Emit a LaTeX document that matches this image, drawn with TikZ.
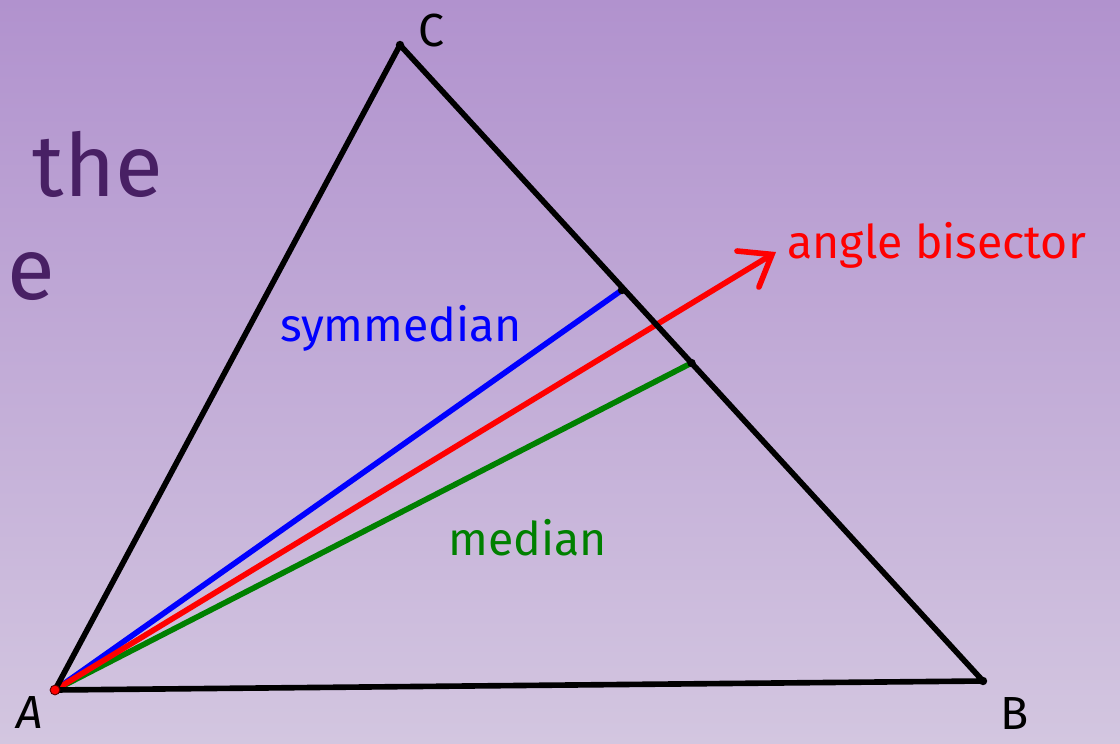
\documentclass[tikz,border=0pt]{standalone}
\usepackage{fontspec}
\setmainfont{Fira Sans}
\usepackage{tikz}
\usetikzlibrary{arrows.meta, positioning, calc}

\definecolor{bgtop}{RGB}{177,146,206}
\definecolor{bgbottom}{RGB}{211,198,224}
\definecolor{wordpurple}{RGB}{72,32,100}
\definecolor{mediangreen}{RGB}{0,128,0}

\begin{document}
\begin{tikzpicture}[x=0.025cm, y=-0.025cm,
  side/.style={line width=4pt, line cap=round, line join=round},
  cevian/.style={line width=4pt, line cap=round},
  vertexdot/.style={circle, fill=black, inner sep=0pt, minimum size=6pt},
  vertexlabel/.style={font=\fontsize{33}{33}\selectfont, inner sep=0pt},
  linelabel/.style={font=\fontsize{33}{33}\selectfont, inner sep=0pt},
  arrow/.style={-{Straight Barb[length=20pt, width=30pt, line cap=round]}}
]
\useasboundingbox (0,0) rectangle (1120,744);
\shade[top color=bgtop, bottom color=bgbottom] (0,0) rectangle (1120,744);

% points of the triangle
\coordinate (A) at (55,690);
\coordinate (B) at (983,681);
\coordinate (C) at (400,45);
\coordinate (S) at (622,290);
\coordinate (M) at ($(B)!0.5!(C)$);
\coordinate (tip) at (776,252);

% words cut off at the left
\node[font=\fontsize{62}{62}\selectfont, text=wordpurple, anchor=base west] (the) at (28,196) {the};
\node[font=\fontsize{62}{62}\selectfont, text=wordpurple, anchor=base west] (e) at (3,299) {e};

\draw[cevian, blue] (A) -- (S);
\draw[cevian, mediangreen] (A) -- (M);
\draw[cevian, red, arrow] (A) -- (tip);
\draw[side] (A) -- (B) -- (C) -- cycle;

\node[vertexdot] at (C) {};
\node[vertexdot] at (B) {};
\node[vertexdot] at (S) {};
\node[vertexdot] at (M) {};
\node[circle, fill=red, draw=black!70!red, line width=0.6pt, inner sep=0pt, minimum size=7pt] at (A) {};

\node[vertexlabel, anchor=center] (labA) at (30,713) {\itshape A};
\node[vertexlabel, anchor=center] (labB) at (1015,714) {B};
\node[vertexlabel, anchor=center] (labC) at (431,31) {C};

\node[linelabel, text=blue] (symmedian) at (401,328) {symmedian};
\node[linelabel, text=mediangreen] (median) at (528,538) {median};
\node[linelabel, text=red, anchor=west] (bisector) at (tip) [xshift=8pt, yshift=5pt] {angle bisector};
\end{tikzpicture}
\end{document}
